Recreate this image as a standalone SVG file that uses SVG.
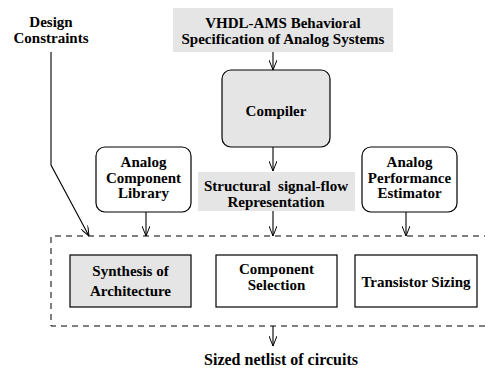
<svg xmlns="http://www.w3.org/2000/svg" width="485" height="371" viewBox="0 0 485 371">
<defs>
<marker id="arr" viewBox="0 0 10 8" refX="10" refY="4" markerWidth="10" markerHeight="8" markerUnits="userSpaceOnUse" orient="auto">
<path d="M0,0 L10,4 L0,8" fill="none" stroke="#000" stroke-width="1"/>
</marker>
<style>
text{font-family:"Liberation Serif","Times New Roman",serif;font-weight:bold;font-size:15px;text-anchor:middle;fill:#000}
.grey{fill:#e5e5e5;stroke:none}
.box{fill:#fff;stroke:#000;stroke-width:1.2}
.gbox{fill:#e5e5e5;stroke:#000;stroke-width:1.2}
.c{fill:none;stroke:#000;stroke-width:1.1}
.dash{fill:none;stroke:#000;stroke-width:1;stroke-dasharray:6,5}
</style>
</defs>
<rect width="485" height="371" fill="#fff"/>
<g id="design">
<text x="51" y="27">Design</text>
<text x="51" y="43">Constraints</text>
</g>
<g id="vhdl">
<rect class="grey" x="173" y="8" width="220" height="44"/>
<text x="283" y="28">VHDL-AMS Behavioral</text>
<text x="283" y="44">Specification of Analog Systems</text>
</g>
<g id="compiler">
<rect class="gbox" x="222" y="70" width="108" height="77" rx="9"/>
<text x="276" y="116">Compiler</text>
</g>
<g id="library">
<rect class="box" x="96" y="147" width="95" height="65" rx="9"/>
<text x="143.5" y="167">Analog</text>
<text x="143.5" y="182.5">Component</text>
<text x="143.5" y="198">Library</text>
</g>
<g id="structural">
<rect class="grey" x="198" y="172" width="157" height="39"/>
<text x="276" y="191" style="white-space:pre">Structural  signal-flow</text>
<text x="276" y="207">Representation</text>
</g>
<g id="estimator">
<rect class="box" x="362" y="147" width="95" height="65" rx="9"/>
<text x="409.5" y="167">Analog</text>
<text x="409.5" y="182.5">Performance</text>
<text x="409.5" y="198">Estimator</text>
</g>
<g id="group">
<path class="dash" d="M490,236 H51 V326 H490"/>
</g>
<g id="synthesis">
<rect class="gbox" x="70" y="255" width="121" height="52"/>
<text x="130.5" y="276">Synthesis of</text>
<text x="130.5" y="296">Architecture</text>
</g>
<g id="selection">
<rect class="box" x="216" y="255" width="121" height="52"/>
<text x="276.5" y="274">Component</text>
<text x="276.5" y="290">Selection</text>
</g>
<g id="sizing">
<rect class="box" x="355" y="255" width="122" height="52"/>
<text x="416" y="287">Transistor Sizing</text>
</g>
<g id="output">
<text x="281" y="365" style="font-size:16px">Sized netlist of circuits</text>
</g>
<g id="connectors">
<path class="c" d="M273,52 V70" marker-end="url(#arr)"/>
<path class="c" d="M273,147 V171" marker-end="url(#arr)"/>
<path class="c" d="M146,212 V236" marker-end="url(#arr)"/>
<path class="c" d="M273,211 V236" marker-end="url(#arr)"/>
<path class="c" d="M406,212 V236" marker-end="url(#arr)"/>
<path class="c" d="M51,52 V165 L89,236" marker-end="url(#arr)"/>
<path class="c" d="M273,326 V346" marker-end="url(#arr)"/>
</g>
</svg>
